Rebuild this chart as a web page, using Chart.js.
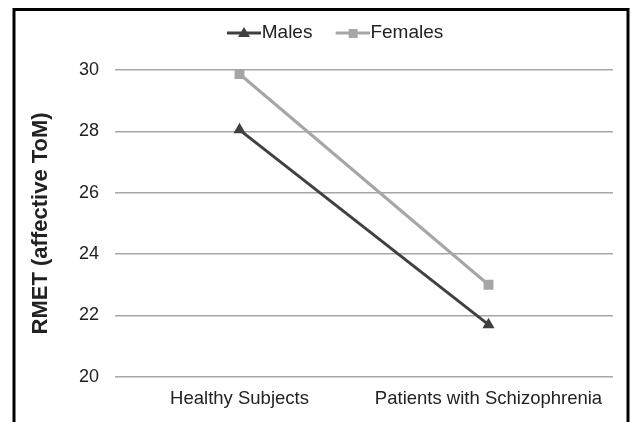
<!DOCTYPE html>
<html>
<head>
<meta charset="utf-8">
<script src="https://cdn.jsdelivr.net/npm/chart.js@4"></script>
<style>
  html, body { margin: 0; padding: 0; background: #fff; }
</style>
</head>
<body>
<canvas id="rmetChart" width="631" height="422"></canvas>
<script>
// Chart data
const groups = ["Healthy Subjects", "Patients with Schizophrenia"];
const malesRmet = [28.05, 21.7];
const femalesRmet = [29.87, 23.0];
const yTicks = [20, 22, 24, 26, 28, 30];

const maleColor = "#404040";
const femaleColor = "#a6a6a6";
const textColor = "#222222";
const fontFamily = "'Liberation Sans', Arial, sans-serif";

// legend swatch: short line with the marker in the middle.
// the image is wider than the legend box so the line sits right against the text
function legendMark(color, shape) {
    const c = document.createElement("canvas");
    c.width = 54;
    c.height = 16;
    const g = c.getContext("2d");
    g.strokeStyle = color;
    g.lineWidth = 3;
    g.beginPath();
    g.moveTo(20, 8);
    g.lineTo(54, 8);
    g.stroke();
    g.fillStyle = color;
    if (shape === "triangle") {
        g.beginPath();
        g.moveTo(37, 2);
        g.lineTo(43, 12);
        g.lineTo(31, 12);
        g.closePath();
        g.fill();
    } else {
        g.fillRect(33, 4, 9, 9);
    }
    return c;
}

const maleMark = legendMark(maleColor, "triangle");
const femaleMark = legendMark(femaleColor, "rect");

// extra room under the legend, and nudge it a little to the right
const legendTweak = {
    id: "legendTweak",
    beforeInit(chart) {
        const fit = chart.legend.fit;
        chart.legend.fit = function () {
            fit.call(this);
            this.height += 17.5;
        };
    },
    afterLayout(chart) {
        chart.legend.left += 22;
    }
};

// white background + the black frame round the figure
const frame = {
    id: "frame",
    beforeDraw(chart) {
        const ctx = chart.ctx;
        ctx.save();
        ctx.fillStyle = "#fff";
        ctx.fillRect(0, 0, chart.width, chart.height);
        ctx.restore();
    },
    afterDraw(chart) {
        const ctx = chart.ctx;
        ctx.save();
        ctx.strokeStyle = "#000";
        ctx.lineWidth = 3;
        ctx.beginPath();
        ctx.moveTo(14, chart.height);
        ctx.lineTo(14, 9.5);
        ctx.lineTo(628, 9.5);
        ctx.lineTo(628, chart.height);
        ctx.stroke();
        ctx.restore();
    }
};

new Chart(document.getElementById("rmetChart"), {
    type: "line",
    data: {
        labels: groups,
        datasets: [{
            label: "Males",
            data: malesRmet,
            borderColor: maleColor,
            backgroundColor: maleColor,
            borderWidth: 3,
            pointStyle: "triangle",
            pointRadius: 7,
            pointBorderWidth: 0,
            fill: false,
            tension: 0
        }, {
            label: "Females",
            data: femalesRmet,
            borderColor: femaleColor,
            backgroundColor: femaleColor,
            borderWidth: 3,
            pointStyle: "rect",
            pointRadius: 7,
            pointBorderWidth: 0,
            fill: false,
            tension: 0
        }]
    },
    options: {
        responsive: false,
        devicePixelRatio: 1,
        animation: false,
        layout: {
            padding: { left: 24, right: 18, top: 11.5, bottom: 0 }
        },
        plugins: {
            tooltip: { enabled: false },
            legend: {
                position: "top",
                labels: {
                    usePointStyle: true,
                    pointStyleWidth: 36.5,
                    padding: 12,
                    color: textColor,
                    font: { family: fontFamily, size: 19 },
                    generateLabels(chart) {
                        return chart.data.datasets.map((ds, i) => ({
                            text: ds.label,
                            pointStyle: i === 0 ? maleMark : femaleMark,
                            fillStyle: ds.borderColor,
                            strokeStyle: ds.borderColor,
                            lineWidth: 0,
                            hidden: false,
                            datasetIndex: i,
                            fontColor: textColor
                        }));
                    }
                }
            }
        },
        scales: {
            x: {
                offset: true,
                grid: { display: false, drawTicks: false },
                border: { display: false },
                ticks: {
                    color: textColor,
                    padding: 11.5,
                    maxRotation: 0,
                    font: { family: fontFamily, size: 18.5 }
                }
            },
            y: {
                min: 20,
                max: 30,
                afterBuildTicks(scale) {
                    scale.ticks = yTicks.map(v => ({ value: v }));
                },
                grid: { color: "#a6a6a6", lineWidth: 1.5, drawTicks: false },
                border: { display: false },
                ticks: {
                    color: textColor,
                    padding: 16,
                    font: { family: fontFamily, size: 18 }
                },
                title: {
                    display: true,
                    text: "RMET (affective ToM)",
                    color: textColor,
                    padding: { top: 4, bottom: 8.6 },
                    font: { family: fontFamily, size: 22, weight: "bold" }
                }
            }
        }
    },
    plugins: [legendTweak, frame]
});
</script>
</body>
</html>
